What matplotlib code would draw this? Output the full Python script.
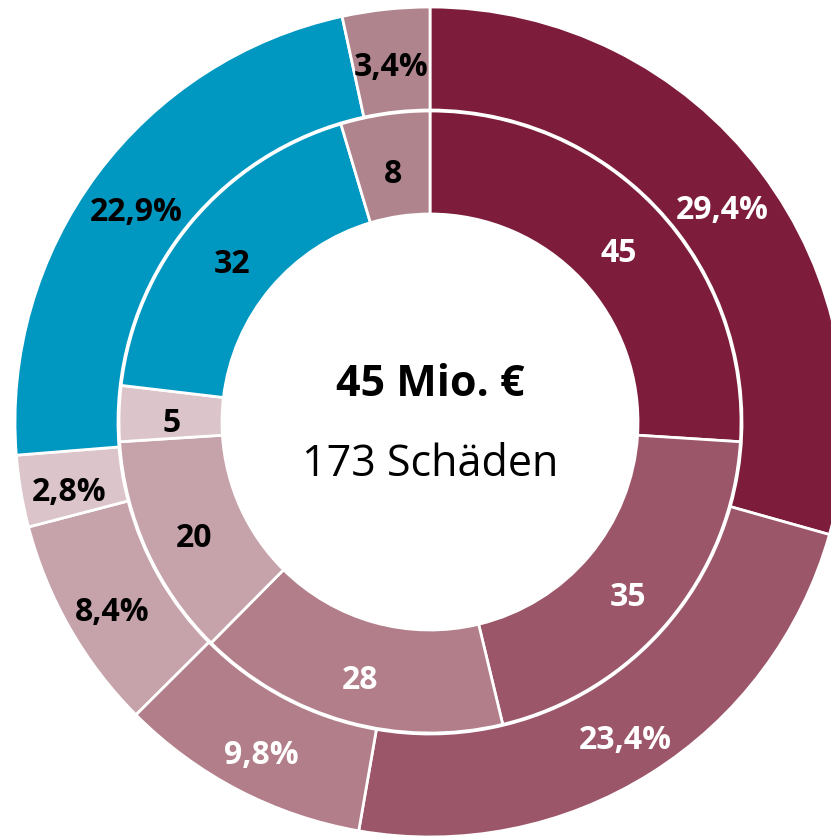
import numpy as np
import matplotlib
matplotlib.use("Agg")
import matplotlib.pyplot as plt

# inner ring: number of claims, outer ring: share of damage amount
inner_values = [45, 35, 28, 20, 5, 32, 8]
inner_labels = ["45", "35", "28", "20", "5", "32", "8"]
outer_values = [29.4, 23.4, 9.8, 8.4, 2.8, 22.9, 3.4]
outer_labels = ["29,4%", "23,4%", "9,8%", "8,4%", "2,8%", "22,9%", "3,4%"]
colors = ["#7D1D3B", "#9C5669", "#B17E89", "#C6A3AA", "#DBC5CA", "#0097C1", "#B0848D"]
text_colors = ["white", "white", "white", "black", "black", "black", "black"]
center_title = "45 Mio. €"
center_sub = "173 Schäden"

plt.rcParams['font.family'] = ['Open Sans', 'DejaVu Sans']

fig = plt.figure(figsize=(8.31, 8.37), dpi=100)
ax = fig.add_axes([0, 0, 1, 1])

cx, cy = 430, 414
r_hole, r_inner, r_outer = 208, 311, 415

ax.pie(outer_values, radius=r_outer, center=(cx, cy), colors=colors,
       startangle=90, counterclock=False, frame=True,
       wedgeprops=dict(width=r_outer - r_inner - 1, edgecolor='white', linewidth=2.0))
ax.pie(inner_values, radius=r_inner, center=(cx, cy), colors=colors,
       startangle=90, counterclock=False, frame=True,
       wedgeprops=dict(width=r_inner - r_hole, edgecolor='white', linewidth=2.0))
ax.set_xlim(0, 831)
ax.set_ylim(0, 837)
ax.set_aspect('equal')
ax.axis('off')


def place_labels(values, labels, radius):
    frac = np.cumsum(values) - np.array(values) / 2
    frac = frac / np.sum(values)
    ang = np.deg2rad(90 - 360 * frac)
    for a, lab, tc in zip(ang, labels, text_colors):
        # small downward nudge so the digits sit where the original has them
        ax.text(cx + radius * np.cos(a), cy + radius * np.sin(a) - 8, lab,
                ha='center', va='center', fontsize=23, fontweight='bold', color=tc)


place_labels(outer_values, outer_labels, 366)
place_labels(inner_values, inner_labels, 259)

ax.text(cx, cy + 38, center_title, ha='center', va='center',
        fontsize=31, fontweight='bold', color='black')
ax.text(cx, cy - 42, center_sub, ha='center', va='center',
        fontsize=31, color='black')

fig.savefig("out.png", dpi=100)
